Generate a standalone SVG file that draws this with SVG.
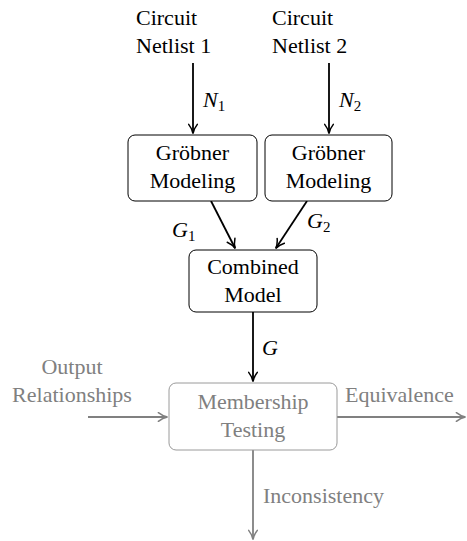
<svg xmlns="http://www.w3.org/2000/svg" width="467" height="541" viewBox="0 0 467 541" font-family="Liberation Serif, Times New Roman, Times, serif">
  <style>
    text { font-size: 22px; fill: #000; }
    .c { text-anchor: middle; }
    .m { font-style: italic; }
    .sub { font-style: normal; font-size: 15px; }
    .gray { fill: #808080; }
    .box { fill: #fff; stroke: #000; stroke-width: 1; }
    .gbox { fill: #fff; stroke: #9a9a9a; stroke-width: 1; }
    .e { fill: none; stroke: #000; stroke-width: 1.8; }
    .ge { fill: none; stroke: #808080; stroke-width: 1.8; }
  </style>
  <defs>
    <marker id="ah" viewBox="0 0 10 10" refX="9" refY="5" markerWidth="6" markerHeight="6" markerUnits="strokeWidth" orient="auto">
      <path d="M1,1 Q5,4.2 9.5,5 Q5,5.8 1,9" fill="none" stroke="#000" stroke-width="1.4" stroke-linecap="round"/>
    </marker>
    <marker id="gah" viewBox="0 0 10 10" refX="9" refY="5" markerWidth="6" markerHeight="6" markerUnits="strokeWidth" orient="auto">
      <path d="M1,1 Q5,4.2 9.5,5 Q5,5.8 1,9" fill="none" stroke="#808080" stroke-width="1.4" stroke-linecap="round"/>
    </marker>
  </defs>

  <!-- connectors -->
  <g id="connectors">
    <line class="e" x1="193" y1="63" x2="193" y2="133" marker-end="url(#ah)"/>
    <line class="e" x1="329" y1="63" x2="329" y2="133" marker-end="url(#ah)"/>
    <line class="e" x1="211" y1="201" x2="235" y2="248" marker-end="url(#ah)"/>
    <line class="e" x1="307" y1="201" x2="276" y2="248" marker-end="url(#ah)"/>
    <line class="e" x1="253" y1="312" x2="253" y2="381" marker-end="url(#ah)"/>
    <line class="ge" x1="88" y1="417" x2="167" y2="417" marker-end="url(#gah)"/>
    <line class="ge" x1="337" y1="417" x2="465" y2="417" marker-end="url(#gah)"/>
    <line class="ge" x1="253" y1="450" x2="253" y2="539" marker-end="url(#gah)"/>

    <text class="m" x="203" y="107">N<tspan class="sub" dy="4">1</tspan></text>
    <text class="m" x="339" y="107">N<tspan class="sub" dy="4">2</tspan></text>
    <text class="m" x="172" y="237">G<tspan class="sub" dy="4">1</tspan></text>
    <text class="m" x="307" y="228">G<tspan class="sub" dy="4">2</tspan></text>
    <text class="m" x="262" y="355">G</text>
  </g>

  <g id="netlist1">
    <text x="136" y="25">Circuit</text>
    <text x="136" y="53">Netlist 1</text>
  </g>
  <g id="netlist2">
    <text x="272" y="25">Circuit</text>
    <text x="272" y="53">Netlist 2</text>
  </g>

  <g id="groebner1">
    <rect class="box" x="128" y="135" width="129" height="66" rx="7"/>
    <text class="c" x="192.5" y="160">Gröbner</text>
    <text class="c" x="192.5" y="188">Modeling</text>
  </g>
  <g id="groebner2">
    <rect class="box" x="265" y="135" width="127" height="66" rx="7"/>
    <text class="c" x="328.5" y="160">Gröbner</text>
    <text class="c" x="328.5" y="188">Modeling</text>
  </g>

  <g id="combined">
    <rect class="box" x="189" y="250" width="128" height="62" rx="7"/>
    <text class="c" x="253" y="274">Combined</text>
    <text class="c" x="253" y="302">Model</text>
  </g>

  <g id="membership">
    <rect class="gbox" x="169" y="383" width="168" height="67" rx="7"/>
    <text class="c gray" x="253" y="409">Membership</text>
    <text class="c gray" x="253" y="437">Testing</text>
  </g>

  <g id="output-relationships">
    <text class="c gray" x="72" y="374">Output</text>
    <text class="c gray" x="72" y="402">Relationships</text>
  </g>
  <g id="equivalence">
    <text class="gray" x="345" y="402">Equivalence</text>
  </g>
  <g id="inconsistency">
    <text class="gray" x="263" y="503">Inconsistency</text>
  </g>
</svg>
